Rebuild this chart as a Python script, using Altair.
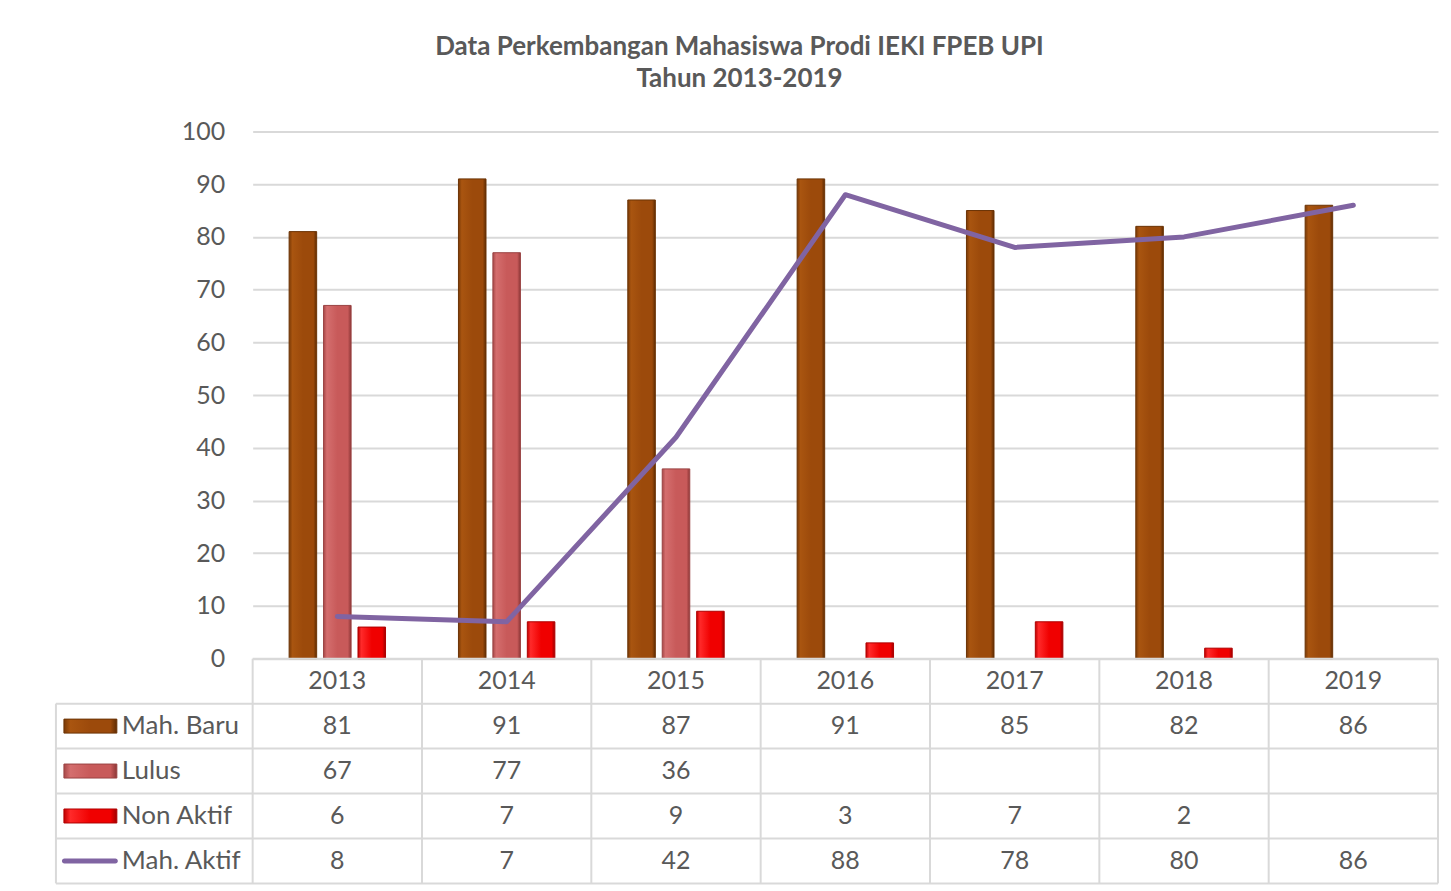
import altair as alt
import pandas as pd

# ---------------- data ----------------
years = ["2013", "2014", "2015", "2016", "2017", "2018", "2019"]
mah_baru = [81, 91, 87, 91, 85, 82, 86]
lulus = [67, 77, 36, None, None, None, None]
non_aktif = [6, 7, 9, 3, 7, 2, None]
mah_aktif = [8, 7, 42, 88, 78, 80, 86]
bar_series = ["Mah. Baru", "Lulus", "Non Aktif"]
line_series = "Mah. Aktif"
y_ticks = [0, 10, 20, 30, 40, 50, 60, 70, 80, 90, 100]
title_lines = ["Data Perkembangan Mahasiswa Prodi IEKI FPEB UPI", "Tahun 2013-2019"]

# ---------------- style ----------------
W, H = 1187, 528
ROW_H = 45
N_ROWS = 5
LABEL_COL = 197
FONT = "Lato"
TXT = "#595959"
GRID = "#d9d9d9"

def grad(c_edge_l, c_light, c_main, c_edge_r):
    return alt.LinearGradient(
        gradient="linear", x1=0, x2=1, y1=0, y2=0,
        stops=[alt.GradientStop(offset=0, color=c_edge_l),
               alt.GradientStop(offset=0.12, color=c_light),
               alt.GradientStop(offset=0.5, color=c_main),
               alt.GradientStop(offset=0.88, color=c_main),
               alt.GradientStop(offset=1, color=c_edge_r)])

fills = {
    "Mah. Baru": grad("#7a3a06", "#a95510", "#9c4a0b", "#5e2c03"),
    "Lulus": grad("#a84848", "#d46e6e", "#c85a5a", "#8c3636"),
    "Non Aktif": grad("#c00000", "#ff2a2a", "#f00000", "#a00000"),
}
strokes = {"Mah. Baru": "#6b3305", "Lulus": "#9a4242", "Non Aktif": "#b00000"}
LINE_COLOR = "#8064a2"

values = {"Mah. Baru": mah_baru, "Lulus": lulus, "Non Aktif": non_aktif, "Mah. Aktif": mah_aktif}
row_names = bar_series + [line_series]

# long tables
bars_rows = []
for s in bar_series:
    for y, v in zip(years, values[s]):
        if v is not None:
            bars_rows.append({"year": y, "series": s, "value": v})
bars_df = pd.DataFrame(bars_rows)
line_df = pd.DataFrame({"year": years, "value": mah_aktif})

cell_rows = []
for y in years:
    cell_rows.append({"year": y, "row": 0, "label": y})
for i, s in enumerate(row_names):
    for y, v in zip(years, values[s]):
        if v is not None:
            cell_rows.append({"year": y, "row": i + 1, "label": str(v)})
cells_df = pd.DataFrame(cell_rows)
names_df = pd.DataFrame({"name": row_names, "row": [1, 2, 3, 4]})

xscale = alt.Scale(domain=years, paddingInner=0.39, paddingOuter=0.195)
yscale = alt.Scale(domain=[0, 100], nice=False)
off_scale = alt.Scale(domain=bar_series, paddingInner=0.2, paddingOuter=0.1)
yaxis = alt.Axis(values=y_ticks, grid=True, gridColor=GRID, gridWidth=2,
                 domain=False, ticks=False, labelFontSize=25, labelColor=TXT,
                 labelFont=FONT, labelPadding=28, title=None)

# ---------------- main plot ----------------
bar_layers = []
for s in bar_series:
    bar_layers.append(
        alt.Chart(bars_df).transform_filter(alt.datum.series == s).mark_bar(
            fill=fills[s], stroke=strokes[s], strokeWidth=1
        ).encode(
            x=alt.X("year:N", scale=xscale, axis=None),
            xOffset=alt.XOffset("series:N", scale=off_scale),
            y=alt.Y("value:Q", scale=yscale, axis=yaxis),
        )
    )

line = alt.Chart(line_df).mark_line(color=LINE_COLOR, strokeWidth=5, strokeCap="round",
                                    strokeJoin="round").encode(
    x=alt.X("year:N", scale=xscale, axis=None),
    y=alt.Y("value:Q", scale=yscale, axis=yaxis),
)

main = alt.layer(*bar_layers, line)

# ---------------- data table ----------------
tscale = alt.Scale(domain=[0, N_ROWS], range=[H, H + N_ROWS * ROW_H], nice=False, zero=False)
step = W / len(years)

hlines = pd.DataFrame({
    "x0": [0] + [-LABEL_COL] * 5,
    "x1": [W] * 6,
    "yv": [0, 1, 2, 3, 4, 5],
})
vlines = pd.DataFrame({
    "xv": [k * step for k in range(len(years) + 1)] + [-LABEL_COL],
    "y0": [0] * (len(years) + 1) + [1],
    "y1": [5] * (len(years) + 2),
})

hrule = alt.Chart(hlines).mark_rule(color=GRID, strokeWidth=2).encode(
    x=alt.X("x0:Q", scale=None), x2="x1:Q",
    y=alt.Y("yv:Q", scale=tscale, axis=None),
)
vrule = alt.Chart(vlines).mark_rule(color=GRID, strokeWidth=2).encode(
    x=alt.X("xv:Q", scale=None),
    y=alt.Y("y0:Q", scale=tscale, axis=None), y2="y1:Q",
)

cells = alt.Chart(cells_df).transform_calculate(yc="datum.row + 0.5").mark_text(
    font=FONT, fontSize=25, color=TXT, baseline="middle", align="center"
).encode(
    x=alt.X("year:N", scale=xscale, axis=None),
    y=alt.Y("yc:Q", scale=tscale, axis=None),
    text="label:N",
)

names = alt.Chart(names_df).transform_calculate(yc="datum.row + 0.5").mark_text(
    font=FONT, fontSize=26, color=TXT, baseline="middle", align="left"
).encode(
    x=alt.value(-131),
    y=alt.Y("yc:Q", scale=tscale, axis=None),
    text="name:N",
)

sym_layers = []
for s in bar_series:
    sym_layers.append(
        alt.Chart(names_df).transform_filter(alt.datum.name == s)
        .transform_calculate(yc="datum.row + 0.5")
        .mark_tick(orient="horizontal", size=53, thickness=14, color=fills[s],
                   stroke=strokes[s], strokeWidth=1, opacity=1)
        .encode(x=alt.value(-162.5), y=alt.Y("yc:Q", scale=tscale, axis=None))
    )
sym_layers.append(
    alt.Chart(names_df).transform_filter(alt.datum.name == line_series)
    .transform_calculate(yc="datum.row + 0.5")
    .mark_tick(orient="horizontal", size=56, thickness=5, color=LINE_COLOR,
               cornerRadius=2.5, opacity=1)
    .encode(x=alt.value(-163), y=alt.Y("yc:Q", scale=tscale, axis=None))
)

table = alt.layer(hrule, vrule, cells, names, *sym_layers)

chart = alt.layer(main, table).resolve_scale(y="independent").properties(
    width=W, height=H,
    title=alt.TitleParams(text=title_lines, font=FONT, fontSize=26, fontWeight="bold",
                          color=TXT, anchor="middle", lineHeight=33, offset=27, dx=-106),
    padding={"left": 47, "top": 25, "right": 4, "bottom": 0},
    background="white",
).configure_view(stroke=None)

chart.save("out.html", embed_options={"renderer": "svg", "actions": False})
